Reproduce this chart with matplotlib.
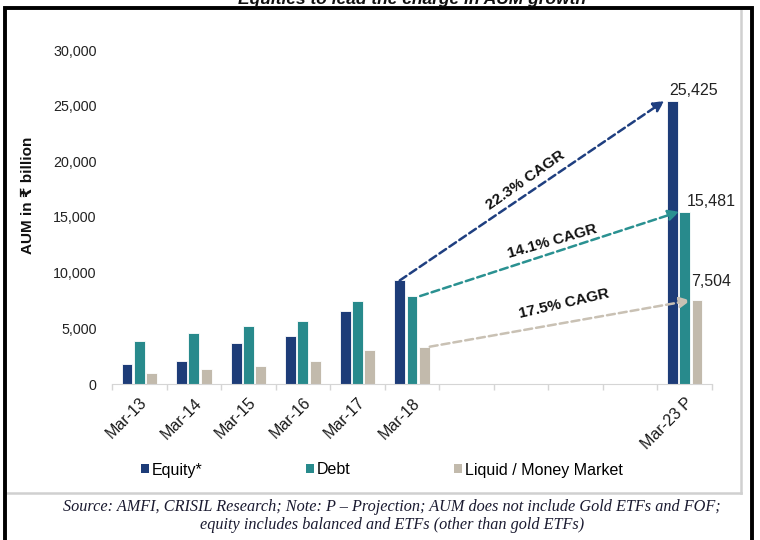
import numpy as np
import matplotlib
matplotlib.use("Agg")
import matplotlib.pyplot as plt
from matplotlib.lines import Line2D
from matplotlib.patches import Patch

plt.rcParams["font.family"] = ["Liberation Sans", "DejaVu Sans"]

categories = ["Mar-13", "Mar-14", "Mar-15", "Mar-16", "Mar-17", "Mar-18", "Mar-23 P"]
slots = [0, 1, 2, 3, 4, 5, 10]  # 4 empty slots before the projection
equity = [1800, 2050, 3700, 4330, 6600, 9300, 25425]
debt = [3900, 4560, 5190, 5700, 7440, 7900, 15481]
liquid = [970, 1370, 1630, 2050, 3070, 3350, 7504]
cagr = ["22.3% CAGR", "14.1% CAGR", "17.5% CAGR"]
series_names = ["Equity*", "Debt", "Liquid / Money Market"]

c_eq = "#1d3c78"
c_debt = "#288a8c"
c_liq = "#c2baac"

fig = plt.figure(figsize=(7.6, 5.4), dpi=100)
ax = fig.add_axes([112 / 760, 1 - 384 / 540, 600 / 760, 334 / 540])

x = np.array(slots, dtype=float)
off = 0.225
w = 0.2
ax.bar(x - off, equity, w, color=c_eq, edgecolor="white", linewidth=0.6)
ax.bar(x, debt, w, color=c_debt, edgecolor="white", linewidth=0.6)
ax.bar(x + off, liquid, w, color=c_liq, edgecolor="white", linewidth=0.6)

ax.set_xlim(-0.5, 10.5)
ax.set_ylim(0, 30000)
ax.set_yticks(np.arange(0, 30001, 5000))
ax.set_yticklabels([f"{v:,}" for v in range(0, 30001, 5000)])
ax.set_xticks(x)
ax.set_xticklabels(categories, rotation=45, ha="right", va="top",
                   rotation_mode="anchor")
ax.set_xticks(np.arange(-0.5, 10.6, 1), minor=True)
ax.tick_params(axis="x", which="major", length=0, pad=8, labelsize=11.5,
               colors="#1a1a1a")
ax.tick_params(axis="x", which="minor", length=4, color="#d5d5d5", width=1)
ax.tick_params(axis="y", length=0, pad=11, labelsize=10.3, colors="#222222")
for s in ["top", "right", "left"]:
    ax.spines[s].set_visible(False)
ax.spines["bottom"].set_color("#d5d5d5")

# growth arrows from Mar-18 to Mar-23 P
arrows = [
    (x[5] - off, equity[5], x[6] - off - 0.15, equity[6], "#1f3f80"),
    (x[5] + 0.15, debt[5], x[6] - 0.1, debt[6], "#2a9191"),
    (x[5] + off + 0.1, liquid[5], x[6] + off - 0.12, liquid[6], "#c9c1b4"),
]
for x0, y0, x1, y1, col in arrows:
    ax.annotate("", xy=(x1, y1), xytext=(x0, y0),
                arrowprops=dict(arrowstyle="-|>", color=col, lw=1.8,
                                linestyle=(0, (3.2, 1.6)), mutation_scale=16,
                                shrinkA=0, shrinkB=0))

ax.text(7.08, 18300, cagr[0], rotation=35, ha="center", va="center",
        fontsize=11, fontweight="bold", color="#111111", rotation_mode="anchor")
ax.text(7.57, 12850, cagr[1], rotation=16, ha="center", va="center",
        fontsize=11, fontweight="bold", color="#111111", rotation_mode="anchor")
ax.text(7.78, 7190, cagr[2], rotation=13, ha="center", va="center",
        fontsize=11, fontweight="bold", color="#111111", rotation_mode="anchor")

ax.text(x[6] - off - 0.06, equity[6] + 250, f"{equity[6]:,}", ha="left",
        va="bottom", fontsize=11.5, color="#222222")
ax.text(x[6] + 0.03, debt[6] + 250, f"{debt[6]:,}", ha="left",
        va="bottom", fontsize=11.5, color="#222222")
ax.text(x[6] + off - 0.1, liquid[6] + 1050, f"{liquid[6]:,}", ha="left",
        va="bottom", fontsize=11.5, color="#222222")

fig.text(28 / 760, 1 - 195 / 540, "AUM in ₹ billion", rotation=90,
         ha="center", va="center", fontsize=11, fontweight="bold",
         color="#111111")

handles = [Patch(facecolor=c, edgecolor="none") for c in (c_eq, c_debt, c_liq)]
fig.legend(handles, series_names, loc="center", ncol=3, frameon=False,
           bbox_to_anchor=(382 / 760, 1 - 470 / 540), fontsize=11.5,
           handlelength=0.5, handleheight=0.5, handletextpad=0.15,
           columnspacing=6.5, borderaxespad=0)

fig.text(412 / 760, 1 - 4 / 540, "Equities to lead the charge in AUM growth",
         ha="center", va="baseline", fontsize=12.5, fontweight="bold",
         style="italic", color="#111111")

src1 = "Source: AMFI, CRISIL Research; Note: P \u2013 Projection; AUM does not include Gold ETFs and FOF;"
src2 = "equity includes balanced and ETFs (other than gold ETFs)"
fig.text(392 / 760, 1 - 507 / 540, src1, ha="center", va="center",
         fontsize=11.7, family="Liberation Serif", style="italic",
         color="#1a1a30")
fig.text(392 / 760, 1 - 525 / 540, src2, ha="center", va="center",
         fontsize=11.7, family="Liberation Serif", style="italic",
         color="#1a1a30")

# frame: gray inner panel and thick black outer box
px = lambda v: v / 760
py = lambda v: 1 - v / 540
fig.add_artist(Line2D([px(741), px(741)], [py(10), py(493)], color="#d0d0d0",
                      lw=1.8))
fig.add_artist(Line2D([px(6), px(741)], [py(493), py(493)], color="#d0d0d0",
                      lw=1.8))
fig.add_artist(Line2D([px(5), px(5), px(751.5), px(751.5)],
                      [py(560), py(8), py(8), py(560)], color="black",
                      lw=2.8, solid_joinstyle="miter"))

fig.savefig("out.png", dpi=100)
